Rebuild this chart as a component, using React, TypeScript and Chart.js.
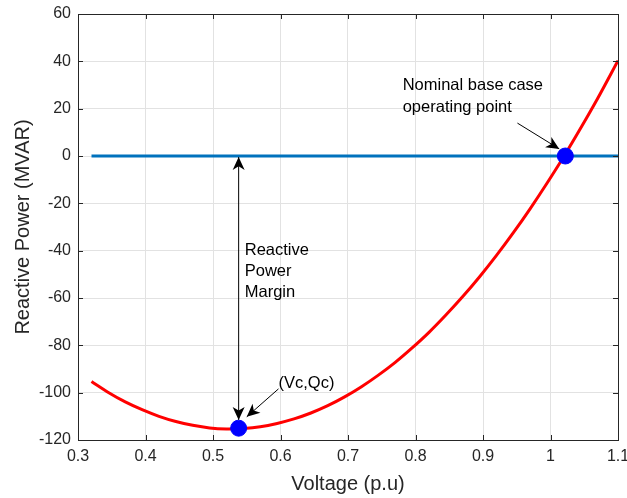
import React, { useEffect, useRef } from "react";
import { Chart, registerables } from "chart.js";
Chart.register(...registerables);

// Red curve: reactive power vs voltage
const voltage = [0.32, 0.345, 0.37, 0.395, 0.42, 0.445, 0.47, 0.495, 0.52, 0.545, 0.57, 0.595, 0.62, 0.645, 0.67, 0.695, 0.72, 0.745, 0.77, 0.795, 0.82, 0.845, 0.87, 0.895, 0.92, 0.945, 0.97, 0.995, 1.02, 1.045, 1.07, 1.1];
const reactivePower = [-95.3, -99.9, -103.9, -107.2, -110.0, -112.2, -113.8, -114.9, -115.3, -115.1, -114.4, -113.0, -111.1, -108.6, -105.5, -101.8, -97.5, -92.6, -87.2, -81.1, -74.5, -67.2, -59.4, -51.0, -42.0, -32.4, -22.2, -11.4, -0.1, 11.9, 24.4, 40.3];

// Blue zero line
const baseLineX = [0.32, 1.1];
const baseLineY = [0, 0];

// Blue markers: critical point (Vc,Qc) and nominal operating point
const markerX = [0.538, 1.022];
const markerY = [-115, 0];

// Axes
const xTickValues = [0.3, 0.4, 0.5, 0.6, 0.7, 0.8, 0.9, 1.0, 1.1];
const yTickValues = [-120, -100, -80, -60, -40, -20, 0, 20, 40, 60];
const xTitle = "Voltage (p.u)";
const yTitle = "Reactive Power (MVAR)";

// Annotations (data coordinates)
const marginArrowX = [0.538, 0.538];
const marginArrowY = [-111.5, -0.4];
const marginText = ["Reactive", "Power", "Margin"];
const marginTextPos = [0.547, -39.7];
const critArrow = [0.597, -98.4, 0.55, -110.2];
const critText = "(Vc,Qc)";
const critTextPos = [0.597, -95.9];
const nomArrow = [0.951, 13.9, 1.013, 3.0];
const nomText = ["Nominal base case", "operating point"];
const nomTextPos = [0.781, 29.6];

const FONT = "'Liberation Sans', Arial, Helvetica, sans-serif";
const TXT = "#262626";

function arrowHead(ctx: CanvasRenderingContext2D, x1: number, y1: number, x2: number, y2: number) {
  const len = 13, hw = 6;
  const a = Math.atan2(y2 - y1, x2 - x1);
  const dx = Math.cos(a), dy = Math.sin(a);
  const px = -dy, py = dx;
  ctx.beginPath();
  ctx.moveTo(x2, y2);
  ctx.lineTo(x2 - len * dx + hw * px, y2 - len * dy + hw * py);
  ctx.lineTo(x2 - len * 0.72 * dx, y2 - len * 0.72 * dy);
  ctx.lineTo(x2 - len * dx - hw * px, y2 - len * dy - hw * py);
  ctx.closePath();
  ctx.fill();
}

const decorPlugin = {
  id: "decor",
  afterDraw(chart: any) {
    const { ctx, chartArea: ca, scales } = chart;
    const xs = scales.x, ys = scales.y;
    const X = (v: number) => xs.getPixelForValue(v);
    const Y = (v: number) => ys.getPixelForValue(v);
    ctx.save();
    // box
    ctx.strokeStyle = TXT;
    ctx.lineWidth = 1;
    ctx.strokeRect(Math.round(ca.left) + 0.5, Math.round(ca.top) + 0.5, Math.round(ca.right - ca.left), Math.round(ca.bottom - ca.top));
    // inward ticks
    ctx.beginPath();
    for (const v of xTickValues) {
      const x = Math.round(X(v)) + 0.5;
      ctx.moveTo(x, ca.bottom); ctx.lineTo(x, ca.bottom - 5);
      ctx.moveTo(x, ca.top); ctx.lineTo(x, ca.top + 5);
    }
    for (const v of yTickValues) {
      const y = Math.round(Y(v)) + 0.5;
      ctx.moveTo(ca.left, y); ctx.lineTo(ca.left + 5, y);
      ctx.moveTo(ca.right, y); ctx.lineTo(ca.right - 5, y);
    }
    ctx.stroke();

    // axis titles
    ctx.fillStyle = TXT;
    ctx.font = `20px ${FONT}`;
    ctx.textAlign = "center";
    ctx.textBaseline = "middle";
    ctx.fillText(xTitle, (ca.left + ca.right) / 2, 484);
    ctx.save();
    ctx.translate(23, (ca.top + ca.bottom) / 2);
    ctx.rotate(-Math.PI / 2);
    ctx.fillText(yTitle, 0, 0);
    ctx.restore();

    // arrows
    ctx.strokeStyle = "#000";
    ctx.fillStyle = "#000";
    ctx.lineWidth = 1;
    const mx = X(marginArrowX[0]);
    const my1 = Y(marginArrowY[0]), my2 = Y(marginArrowY[1]);
    ctx.beginPath(); ctx.moveTo(mx, my1); ctx.lineTo(mx, my2); ctx.stroke();
    arrowHead(ctx, mx, my2, mx, my1);
    arrowHead(ctx, mx, my1, mx, my2);

    const c1x = X(critArrow[0]), c1y = Y(critArrow[1]), c2x = X(critArrow[2]), c2y = Y(critArrow[3]);
    ctx.beginPath(); ctx.moveTo(c1x, c1y); ctx.lineTo(c2x, c2y); ctx.stroke();
    arrowHead(ctx, c1x, c1y, c2x, c2y);

    const n1x = X(nomArrow[0]), n1y = Y(nomArrow[1]), n2x = X(nomArrow[2]), n2y = Y(nomArrow[3]);
    ctx.beginPath(); ctx.moveTo(n1x, n1y); ctx.lineTo(n2x, n2y); ctx.stroke();
    arrowHead(ctx, n1x, n1y, n2x, n2y);

    // texts
    ctx.fillStyle = "#000";
    ctx.font = `16.5px ${FONT}`;
    ctx.textAlign = "left";
    ctx.textBaseline = "middle";
    marginText.forEach((t, i) => ctx.fillText(t, X(marginTextPos[0]), Y(marginTextPos[1]) + i * 21));
    ctx.fillText(critText, X(critTextPos[0]), Y(critTextPos[1]));
    nomText.forEach((t, i) => ctx.fillText(t, X(nomTextPos[0]), Y(nomTextPos[1]) + i * 22));
    ctx.restore();
  },
};

export default function App() {
  const ref = useRef<HTMLCanvasElement | null>(null);
  useEffect(() => {
    if (!ref.current) return;
    const chart = new Chart(ref.current, {
      type: "line",
      data: {
        datasets: [
          {
            label: "markers",
            type: "scatter",
            data: markerX.map((x, i) => ({ x, y: markerY[i] })),
            backgroundColor: "#0000ff",
            borderColor: "#0000ff",
            pointRadius: 8,
            pointHoverRadius: 8,
            order: 0,
          } as any,
          {
            label: "Q-V curve",
            data: voltage.map((x, i) => ({ x, y: reactivePower[i] })),
            borderColor: "#ff0000",
            borderWidth: 3,
            pointRadius: 0,
            tension: 0.3,
            fill: false,
            order: 1,
          },
          {
            label: "zero",
            data: baseLineX.map((x, i) => ({ x, y: baseLineY[i] })),
            borderColor: "#0072BD",
            borderWidth: 3,
            pointRadius: 0,
            fill: false,
            order: 2,
          },
        ],
      },
      options: {
        animation: false,
        responsive: false,
        devicePixelRatio: 1,
        layout: { padding: { left: 0, top: 14, right: 8, bottom: 0 } },
        plugins: { legend: { display: false }, tooltip: { enabled: false } },
        scales: {
          x: {
            type: "linear",
            min: 0.3,
            max: 1.1,
            afterBuildTicks: (s: any) => { s.ticks = xTickValues.map((v) => ({ value: v })); },
            afterFit: (s: any) => { s.height = 58; s.paddingLeft = 0; s.paddingRight = 0; },
            ticks: {
              color: TXT,
              font: { family: FONT, size: 16 },
              padding: 7,
              maxRotation: 0,
              autoSkip: false,
              callback: (v: any) => String(Number(Number(v).toFixed(1))),
            },
            grid: { color: "#e2e2e2", drawTicks: false },
            border: { display: false },
          },
          y: {
            type: "linear",
            min: -120,
            max: 60,
            afterBuildTicks: (s: any) => { s.ticks = yTickValues.map((v) => ({ value: v })); },
            afterFit: (s: any) => { s.width = 78; s.paddingTop = 0; s.paddingBottom = 0; },
            ticks: {
              color: TXT,
              font: { family: FONT, size: 16 },
              padding: 7,
              autoSkip: false,
            },
            grid: { color: "#e2e2e2", drawTicks: false },
            border: { display: false },
          },
        },
      } as any,
      plugins: [decorPlugin],
    });
    return () => chart.destroy();
  }, []);
  return (
    <div style={{ position: "fixed", left: 0, top: 0, width: 627, height: 498, background: "#fff" }}>
      <canvas ref={ref} width={627} height={498} style={{ width: 627, height: 498 }} />
    </div>
  );
}
